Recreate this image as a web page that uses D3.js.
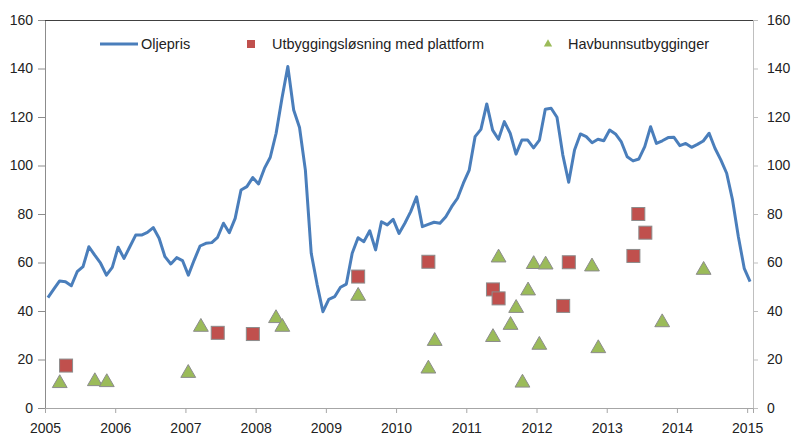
<!DOCTYPE html>
<html><head><meta charset="utf-8">
<script src="https://cdn.jsdelivr.net/npm/d3@7"></script>
<style>
body{margin:0;background:#fff;}
svg{display:block;font-family:"Liberation Sans",Arial,sans-serif;}
</style></head>
<body><svg id="c" width="793" height="437"></svg>
<script>
// Monthly oil price (USD/barrel), Jan 2005 .. Jan 2015
const startYear = 2005;
const oilPrice = [
 45.5, 49, 52.4, 52.1, 50.4, 56.2, 58.3, 66.5, 63, 59.7, 54.8, 58,
 66.3, 61.7, 66.5, 71.3, 71.3, 72.4, 74.4, 70, 62.4, 59.4, 62, 60.8,
 54.8, 61, 66.8, 67.9, 68.2, 70.4, 76.2, 72.3, 78.2, 89.9, 91.3, 95,
 92.4, 98.8, 103.4, 113.3, 127.7, 140.8, 122.9, 115.7, 98.1, 63.8, 51, 39.7,
 44.8, 45.9, 49.8, 51.1, 63.8, 70.2, 68.6, 73.1, 65.2, 76.8, 75.5, 77.8,
 72, 76.2, 81, 87.1, 74.8, 75.7, 76.6, 76.2, 78.9, 83, 86.5, 92.7,
 98.1, 111.9, 114.9, 125.4, 114.6, 110.8, 118.1, 113.3, 104.7, 110.5, 110.5, 107.3,
 110.5, 123.2, 123.6, 119.9, 104.3, 93.1, 106.4, 113, 111.9, 109.4, 110.8, 110.2,
 114.6, 113, 109.7, 103.6, 101.9, 102.7, 107.8, 116, 109.1, 110.2, 111.5, 111.6,
 108.2, 109.1, 107.5, 108.7, 110.1, 113.3, 107.1, 102.3, 96.8, 85.8, 70.6, 57.6,
 52.1
];
// Platform developments: [decimal year, value]
const platformDates = [2005.30, 2007.46, 2007.96, 2009.46, 2010.46, 2011.38, 2011.46, 2012.38, 2012.46, 2013.38, 2013.45, 2013.55];
const platformValues = [17.5, 31, 30.5, 54.2, 60.3, 48.9, 45.2, 42.1, 60.1, 62.7, 80, 72.3];
// Subsea developments
const subseaDates = [2005.21, 2005.71, 2005.88, 2007.04, 2007.22, 2008.29, 2008.38, 2009.46, 2010.46, 2010.55, 2011.38, 2011.46, 2011.63, 2011.71, 2011.80, 2011.88, 2011.96, 2012.04, 2012.13, 2012.79, 2012.88, 2013.79, 2014.38];
const subseaValues = [10.6, 11.4, 11, 14.8, 33.8, 37.4, 33.8, 46.6, 16.6, 28, 29.6, 62.4, 34.6, 41.6, 10.8, 48.8, 59.7, 26.4, 59.5, 58.7, 25, 35.7, 57.3];
const yearTicks = [2005, 2006, 2007, 2008, 2009, 2010, 2011, 2012, 2013, 2014, 2015];
const valueTicks = [0, 20, 40, 60, 80, 100, 120, 140, 160];
const legendLabels = ["Oljepris", "Utbyggingsløsning med plattform", "Havbunnsutbygginger"];

const L = 45, R = 753, T = 20, B = 408;
const svg = d3.select("#c");
const x = d3.scaleLinear().domain([startYear, startYear + oilPrice.length / 12]).range([L, R]);
const y = d3.scaleLinear().domain([0, 160]).range([B, T]);

// axes
const fmt = d3.format("d");
const gl = svg.append("g").attr("transform", `translate(${L},0)`)
  .call(d3.axisLeft(y).tickValues(valueTicks).tickSize(7).tickPadding(5).tickFormat(fmt));
const gr = svg.append("g").attr("transform", `translate(${R},0)`)
  .call(d3.axisRight(y).tickValues(valueTicks).tickSize(5).tickPadding(9).tickFormat(fmt));
const gb = svg.append("g").attr("transform", `translate(0,${B})`)
  .call(d3.axisBottom(x).tickValues(yearTicks).tickSize(5).tickPadding(8).tickFormat(fmt));
[gl, gr, gb].forEach(g => {
  g.selectAll("text").attr("font-size", 14).attr("fill", "#222").attr("font-family", "Liberation Sans, Arial, sans-serif");
});
gl.select(".domain").attr("stroke", "#8c8c8c");
gl.selectAll(".tick line").attr("stroke", "#8c8c8c");
gr.select(".domain").attr("stroke", "#bfbfbf");
gr.selectAll(".tick line").attr("stroke", "#bfbfbf");
gb.select(".domain").attr("stroke", "#a6a6a6");
gb.selectAll(".tick line").attr("stroke", "#a6a6a6");
gb.selectAll("text").attr("dy", "0.85em");
// top border
svg.append("line").attr("x1", L).attr("x2", R).attr("y1", T + 0.5).attr("y2", T + 0.5)
  .attr("stroke", "#404040").attr("stroke-width", 1);

// oil price line
const line = d3.line()
  .x((d, i) => x(startYear + (i + 0.5) / 12))
  .y(d => y(d));
svg.append("path").datum(oilPrice).attr("d", line)
  .attr("fill", "none").attr("stroke", "#4A7EBB").attr("stroke-width", 3)
  .attr("stroke-linejoin", "round");

// markers
const sq = 13;
svg.append("g").selectAll("rect").data(platformDates).join("rect")
  .attr("x", (d) => x(d) - sq / 2)
  .attr("y", (d, i) => y(platformValues[i]) - sq / 2)
  .attr("width", sq).attr("height", sq)
  .attr("fill", "#C0504D").attr("stroke", "#8c8c8c").attr("stroke-width", 1);

const tri = d3.symbol().type(d3.symbolTriangle).size(95);
svg.append("g").selectAll("path").data(subseaDates).join("path")
  .attr("d", tri)
  .attr("transform", (d, i) => `translate(${x(d)},${y(subseaValues[i]) + 1})`)
  .attr("fill", "#9BBB59").attr("stroke", "#8c8c8c").attr("stroke-width", 1);

// legend
const lg = svg.append("g").attr("font-size", 14.5).attr("fill", "#222");
const ly = 44;
lg.append("line").attr("x1", 100).attr("x2", 138).attr("y1", ly).attr("y2", ly)
  .attr("stroke", "#4A7EBB").attr("stroke-width", 3);
lg.append("text").attr("x", 141).attr("y", ly + 5).text(legendLabels[0]);
lg.append("rect").attr("x", 247).attr("y", ly - 4).attr("width", 8).attr("height", 8).attr("fill", "#C0504D");
lg.append("text").attr("x", 272).attr("y", ly + 5).text(legendLabels[1]);
lg.append("path").attr("d", d3.symbol().type(d3.symbolTriangle).size(30))
  .attr("transform", `translate(548,${ly})`).attr("fill", "#9BBB59");
lg.append("text").attr("x", 568).attr("y", ly + 5).text(legendLabels[2]);
</script></body></html>
